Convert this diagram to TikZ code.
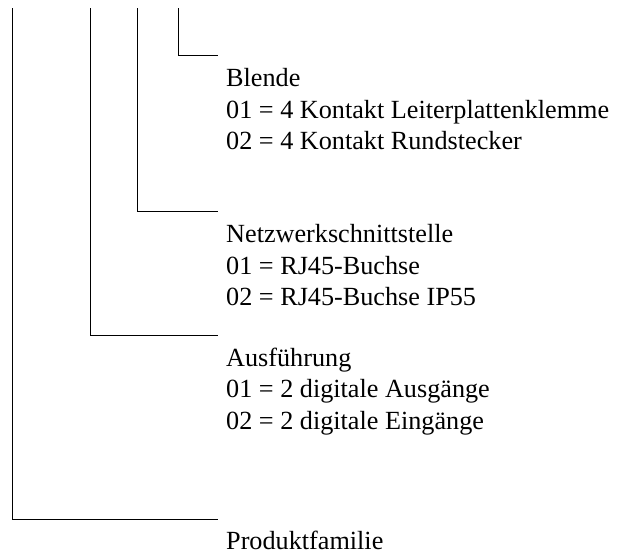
\documentclass[tikz,border=0pt]{standalone}
\usepackage{fontspec}
\setmainfont{Liberation Serif}
\usetikzlibrary{positioning}
\tikzset{
	ast/.style={line width=0.8pt},
	eintrag/.style={align=left, inner sep=0pt, font=\fontsize{26.2}{31.5}\selectfont},
}
\begin{document}
\begin{tikzpicture}[x=1pt,y=-1pt]
		\useasboundingbox (0,0) rectangle (617,558);
		% Anfaenge oben
		\coordinate (familie oben) at (12,8);
		\coordinate (ausf oben) at (90,8);
		\coordinate (netz oben) at (137,8);
		\coordinate (blende oben) at (178,8);
		% Enden rechts
		\coordinate (familie ende) at (218,519);
		\coordinate (ausf ende) at (218,335);
		\coordinate (netz ende) at (218,211);
		\coordinate (blende ende) at (218,55);
		% Linien
		\draw[ast] (familie oben) |- (familie ende);
		\draw[ast] (ausf oben) |- (ausf ende);
		\draw[ast] (netz oben) |- (netz ende);
		\draw[ast] (blende oben) |- (blende ende);
		% Texte
		\node[eintrag, below right=13.5pt and 8pt of blende ende] (blende)
			{Blende\\01 = 4 Kontakt Leiterplattenklemme\\02 = 4 Kontakt Rundstecker};
		\node[eintrag, below right=13.5pt and 8pt of netz ende] (netz)
			{Netzwerkschnittstelle\\01 = RJ45-Buchse\\02 = RJ45-Buchse IP55};
		\node[eintrag, below right=12.5pt and 8pt of ausf ende] (ausf)
			{Ausführung\\01 = 2 digitale Ausgänge\\02 = 2 digitale Eingänge};
		\node[eintrag, below right=12pt and 8pt of familie ende] (familie)
			{Produktfamilie};
	\end{tikzpicture}
\end{document}
